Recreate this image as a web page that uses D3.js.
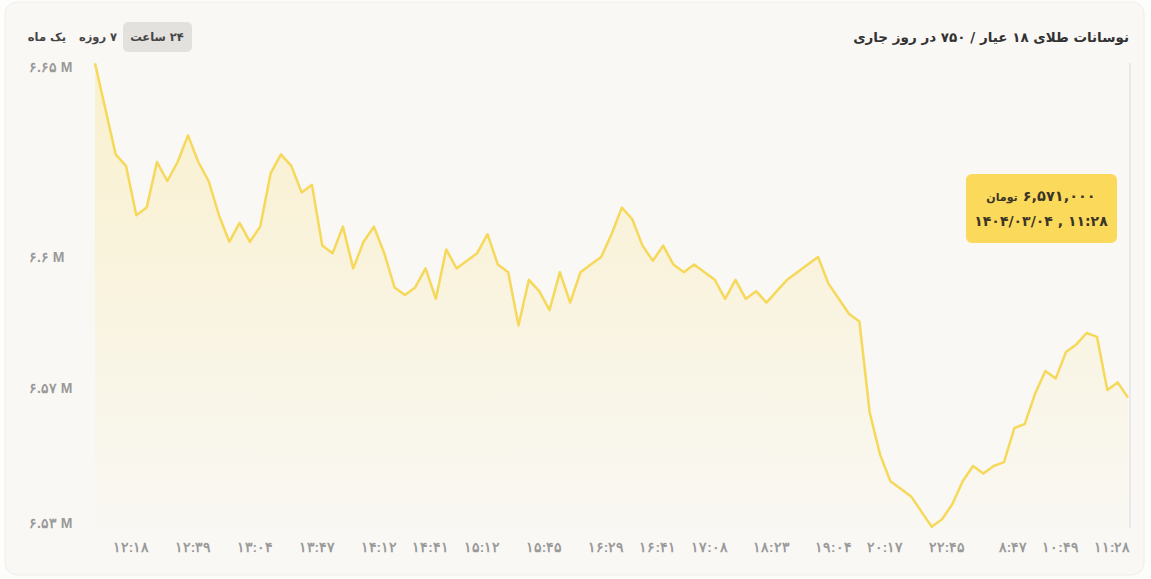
<!DOCTYPE html>
<html>
<head>
<meta charset="utf-8">
<script src="https://cdn.jsdelivr.net/npm/d3@7"></script>
<style>
  html, body { margin: 0; padding: 0; background: #fdfdfc; }
  svg { display: block; font-family: "DejaVu Sans", "Noto Sans", sans-serif; }
</style>
</head>
<body>
<svg id="svg" width="1151" height="579"></svg>
<script>
// prices in thousand toman, one per point
var prices = [6651, 6639, 6627, 6624, 6611, 6613, 6625, 6620, 6625, 6632,
  6625, 6620, 6611, 6604, 6609, 6604, 6608, 6622, 6627, 6624,
  6617, 6619, 6603, 6601, 6608, 6597, 6604, 6608, 6601, 6592,
  6590, 6592, 6597, 6589, 6602, 6597, 6599, 6601, 6606, 6598,
  6596, 6582, 6594, 6591, 6586, 6596, 6588, 6596, 6598, 6600,
  6606, 6613, 6610, 6603, 6599, 6603, 6598, 6596, 6598, 6596,
  6594, 6589, 6594, 6589, 6591, 6588, 6591, 6594, 6596, 6598,
  6600, 6593, 6589, 6585, 6583, 6559, 6548, 6541, 6539, 6537,
  6533, 6529, 6531, 6535, 6541, 6545, 6543, 6545, 6546, 6555,
  6556, 6564, 6570, 6568, 6575, 6577, 6580, 6579, 6565, 6567, 6563];

// x labels: point index -> time
var labelIdx = [5, 11, 17, 23, 29, 34, 39, 45, 51, 56, 61, 67, 73, 78, 84, 90, 95, 100];
var labelText = ["۱۲:۱۸", "۱۲:۳۹", "۱۳:۰۴", "۱۳:۴۷", "۱۴:۱۲", "۱۴:۴۱", "۱۵:۱۲", "۱۵:۴۵", "۱۶:۲۹",
  "۱۶:۴۱", "۱۷:۰۸", "۱۸:۲۳", "۱۹:۰۴", "۲۰:۱۷", "۲۲:۴۵", "۸:۴۷", "۱۰:۴۹", "۱۱:۲۸"];

var yTicks = [6530, 6565.5, 6600, 6650];
var yTickLabels = ["۶.۵۳ M", "۶.۵۷ M", "۶.۶ M", "۶.۶۵ M"];

var periods = ["۲۴ ساعت", "۷ روزه", "یک ماه"];
var title = "نوسانات طلای ۱۸ عیار / ۷۵۰ در روز جاری";
var tipPrice = "۶,۵۷۱,۰۰۰";
var tipUnit = "تومان";
var tipDate = "۱۴۰۴/۰۳/۰۴ , ۱۱:۲۸";

var svg = d3.select("#svg");

// card
svg.append("rect")
  .attr("x", 5).attr("y", 2).attr("width", 1139).attr("height", 573)
  .attr("rx", 12)
  .attr("fill", "#f9f8f5")
  .attr("stroke", "#efeeea");

var x = d3.scaleLinear().domain([0, prices.length - 1]).range([95, 1128]);
var y = d3.scaleLinear().domain([6530, 6650]).range([523, 67]);

//////// GRADIENT //////////
var grad = svg.append("defs").append("linearGradient")
  .attr("id", "fillGrad").attr("x1", 0).attr("y1", 0).attr("x2", 0).attr("y2", 1);
grad.append("stop").attr("offset", "0%").attr("stop-color", "#fbe07a").attr("stop-opacity", 0.32);
grad.append("stop").attr("offset", "100%").attr("stop-color", "#fbe07a").attr("stop-opacity", 0.02);

//////// AREA + LINE //////////
var area = d3.area()
  .x(function(d, i) { return x(i); })
  .y0(528)
  .y1(function(d) { return y(d); });

svg.append("path")
  .datum(prices)
  .attr("d", area)
  .attr("fill", "url(#fillGrad)");

var line = d3.line()
  .x(function(d, i) { return x(i); })
  .y(function(d) { return y(d); });

svg.append("path")
  .datum(prices)
  .attr("d", line)
  .attr("fill", "none")
  .attr("stroke", "#f6d85a")
  .attr("stroke-width", 2.5)
  .attr("stroke-linejoin", "round");

// cursor line at last point
var last = prices.length - 1;
svg.append("line")
  .attr("x1", x(last) + 2).attr("x2", x(last) + 2)
  .attr("y1", 63).attr("y2", 528)
  .attr("stroke", "#e6e5e2").attr("stroke-width", 1.5);

//////// AXES //////////
var xAxis = d3.axisBottom(x)
  .tickValues(labelIdx)
  .tickSize(0)
  .tickFormat(function(d, i) { return labelText[i]; });

var gx = svg.append("g").attr("transform", "translate(0,539)").call(xAxis);
gx.select(".domain").remove();
gx.selectAll("text")
  .attr("text-anchor", "end")
  .attr("dx", 2)
  .attr("dy", "0.71em")
  .attr("fill", "#9a9a9a")
  .style("font-size", "13.5px")
  .style("font-weight", "bold")
  .style("font-family", "inherit")
  .attr("direction", "ltr");

var yAxis = d3.axisLeft(y)
  .tickValues(yTicks)
  .tickSize(0)
  .tickFormat(function(d, i) { return yTickLabels[i]; });

var gy = svg.append("g").attr("transform", "translate(29,0)").call(yAxis);
gy.select(".domain").remove();
gy.selectAll("text")
  .attr("x", 0)
  .attr("text-anchor", "start")
  .attr("fill", "#9a9a9a")
  .style("font-size", "14px")
  .style("font-weight", "bold")
  .style("font-family", "inherit")
  .attr("direction", "ltr");

///////// HEADER ////////////
svg.append("text")
  .attr("x", 1129).attr("y", 37)
  .attr("dy", "0.35em")
  .attr("direction", "rtl")
  .attr("text-anchor", "start")
  .attr("fill", "#333")
  .style("font-size", "13.5px")
  .style("font-weight", "bold")
  .text(title);

var btnX = [157, 98, 47];
svg.append("rect")
  .attr("x", 123).attr("y", 22).attr("width", 69).attr("height", 30)
  .attr("rx", 5).attr("fill", "#e2e1de");

svg.selectAll(".period").data(periods).enter()
  .append("text")
  .attr("class", "period")
  .attr("x", function(d, i) { return btnX[i]; })
  .attr("y", 37)
  .attr("dy", "0.35em")
  .attr("direction", "rtl")
  .attr("text-anchor", "middle")
  .attr("fill", "#444")
  .style("font-size", "11.5px")
  .style("font-weight", "bold")
  .text(function(d) { return d; });

///////// TOOLTIP ////////////
var tip = svg.append("g");
tip.append("rect")
  .attr("x", 966).attr("y", 174).attr("width", 151).attr("height", 69)
  .attr("rx", 6).attr("fill", "#fbd95b");

var t1 = tip.append("text")
  .attr("x", 1041).attr("y", 195)
  .attr("dy", "0.35em")
  .attr("direction", "rtl")
  .attr("text-anchor", "middle")
  .attr("fill", "#3a3527")
  .style("font-weight", "bold");
t1.append("tspan").style("font-size", "14.5px").text(tipPrice + " ");
t1.append("tspan").style("font-size", "11px").text(tipUnit);

tip.append("text")
  .attr("x", 1041).attr("y", 221)
  .attr("dy", "0.35em")
  .attr("direction", "ltr")
  .attr("text-anchor", "middle")
  .attr("fill", "#3a3527")
  .style("font-size", "14px")
  .style("font-weight", "bold")
  .text(tipDate);
</script>
</body>
</html>
